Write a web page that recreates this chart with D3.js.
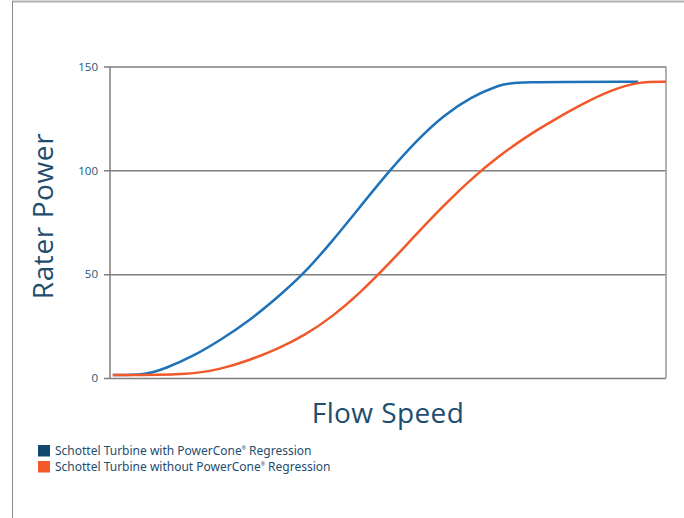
<!DOCTYPE html>
<html><head><meta charset="utf-8">
<script src="https://cdn.jsdelivr.net/npm/d3@7"></script>
<style>body{margin:0;background:#fff}svg{display:block}</style>
</head><body>
<svg id="c" width="684" height="518"></svg>
<script>
// Data (flow speed in arbitrary units 0-100, rated power 0-150)
const seriesNames = ["Schottel Turbine with PowerCone", "Schottel Turbine without PowerCone"];
const withX = [0.5, 6.3, 10, 15, 20, 25, 30, 35, 40, 45, 50, 55, 60, 65, 70, 72.5, 95];
const withY = [1.4, 1.4, 4.6, 10.5, 18.5, 27.5, 38.5, 50.5, 66, 82.5, 99, 114, 126.5, 135.5, 141, 142.7, 142.7];
const withoutX = [0.5, 14, 20, 25, 30, 35, 40, 45, 50, 55, 60, 65, 70, 75, 80, 85, 90, 95, 100];
const withoutY = [1.4, 1.4, 4.3, 8.5, 13.8, 20.5, 29.5, 41, 54.5, 69, 83, 96, 107, 116.5, 124.5, 132, 138.5, 142.7, 142.7];
const yTicks = [0, 50, 100, 150];

const svg = d3.select("#c");
const L = 110, R = 666, T = 66.5, B = 378;
const x = d3.scaleLinear().domain([0, 100]).range([L, R]);
const y = d3.scaleLinear().domain([0, 150]).range([B, T]);
const textCol = "#1e4d6e";

// outer page border
svg.append("line").attr("x1", 12).attr("x2", 684).attr("y1", 1.5).attr("y2", 1.5).attr("stroke", "#b0b0b0").attr("stroke-width", 2);
svg.append("line").attr("x1", 12.5).attr("x2", 12.5).attr("y1", 1).attr("y2", 518).attr("stroke", "#8a8a8a").attr("stroke-width", 1);

// y axis with gridlines
const yAxis = d3.axisLeft(y).tickValues(yTicks).tickSize(-(R - L) - 6).tickPadding(6).tickFormat(d3.format("d"));
const gy = svg.append("g").attr("transform", `translate(${L - 6},0)`).call(yAxis);
gy.select(".domain").remove();
gy.selectAll(".tick line").attr("stroke", "#7f7f7f").attr("stroke-width", 1.5).attr("x1", 0);
gy.selectAll(".tick text").attr("fill", "#24557a").attr("font-family", "'Open Sans', sans-serif")
  .attr("font-size", 11.5).attr("font-weight", 500).attr("x", -6);

// left axis line and right frame
svg.append("line").attr("x1", L).attr("x2", L).attr("y1", T).attr("y2", B).attr("stroke", "#7f7f7f").attr("stroke-width", 1.5);
svg.append("line").attr("x1", R).attr("x2", R).attr("y1", T).attr("y2", B).attr("stroke", "#9a9a9a").attr("stroke-width", 1.5);

// lines
const line = d3.line().x(d => x(d[0])).y(d => y(d[1])).curve(d3.curveBasis);
const withData = withX.map((v, i) => [v, withY[i]]);
const withoutData = withoutX.map((v, i) => [v, withoutY[i]]);
svg.append("path").datum(withData).attr("d", line).attr("fill", "none").attr("stroke", "#1f72b8").attr("stroke-width", 2.5);
svg.append("path").datum(withoutData).attr("d", line).attr("fill", "none").attr("stroke", "#f2592a").attr("stroke-width", 2.5);

// axis titles
svg.append("text").attr("transform", "translate(53,216) rotate(-90)").attr("text-anchor", "middle")
  .attr("fill", textCol).attr("font-family", "'Open Sans', sans-serif").attr("font-size", 28)
  .attr("letter-spacing", 0.6).text("Rater Power");
svg.append("text").attr("x", 388).attr("y", 423).attr("text-anchor", "middle")
  .attr("fill", textCol).attr("font-family", "'Open Sans', sans-serif").attr("font-size", 28)
  .attr("letter-spacing", 0.4).text("Flow Speed");

// legend
const legCols = ["#0f4a6e", "#f2592a"];
const leg = svg.append("g");
seriesNames.forEach((n, i) => {
  const yy = 445 + i * 16;
  leg.append("rect").attr("x", 38).attr("y", yy).attr("width", 12).attr("height", 11.5).attr("fill", legCols[i]);
  const t = leg.append("text").attr("x", 55).attr("y", yy + 10).attr("fill", textCol)
    .attr("font-family", "'Liberation Sans Narrow', 'Noto Sans', sans-serif").attr("font-size", 12);
  t.append("tspan").text(n);
  t.append("tspan").attr("font-size", 5).attr("dy", -5).text("®");
  t.append("tspan").attr("dy", 5).text(" Regression");
});
</script>
</body></html>
